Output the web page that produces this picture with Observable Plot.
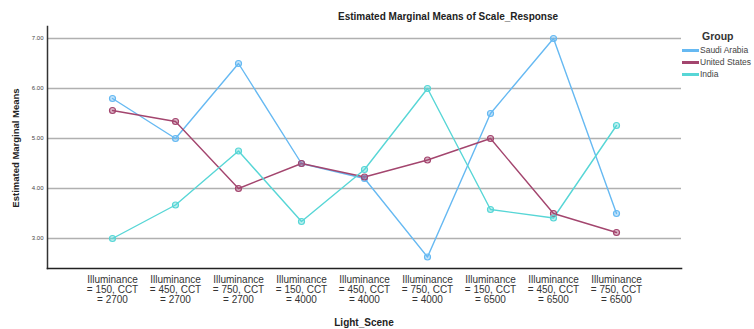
<!DOCTYPE html>
<html>
<head>
<meta charset="utf-8">
<script src="https://cdn.jsdelivr.net/npm/d3@7"></script>
<script src="https://cdn.jsdelivr.net/npm/@observablehq/plot@0.6"></script>
<style>
  html, body { margin: 0; padding: 0; background: #fff; }
  #wrap { position: relative; width: 754px; height: 329px; font-family: "Liberation Sans", Arial, sans-serif; }
  .abs { position: absolute; white-space: nowrap; }
  #title { left: 338px; top: 11px; font-size: 10px; font-weight: bold; color: #222; }
  #ylab { left: 15px; top: 148px; font-size: 9.5px; font-weight: bold; color: #222; transform: translate(-50%, -50%) rotate(-90deg); }
  #xlab { left: 364px; top: 322px; font-size: 10px; font-weight: bold; color: #222; transform: translate(-50%, -50%); }
  #legTitle { left: 702px; top: 30px; font-size: 10.5px; font-weight: bold; color: #333; }
  .legRow { position: absolute; left: 682px; height: 12px; display: flex; align-items: center; font-size: 8.5px; color: #444; }
  .legRow .sw { width: 17px; height: 3px; margin-right: 1px; }
</style>
</head>
<body>
<div id="wrap">
  <div id="chart" class="abs" style="left:0;top:0"></div>
  <div id="title" class="abs">Estimated Marginal Means of Scale_Response</div>
  <div id="ylab" class="abs">Estimated Marginal Means</div>
  <div id="xlab" class="abs">Light_Scene</div>
  <div id="legTitle" class="abs">Group</div>
  <div id="legend"></div>
</div>
<script>
const scenes = [
  "Illuminance\n= 150, CCT\n= 2700",
  "Illuminance\n= 450, CCT\n= 2700",
  "Illuminance\n= 750, CCT\n= 2700",
  "Illuminance\n= 150, CCT\n= 4000",
  "Illuminance\n= 450, CCT\n= 4000",
  "Illuminance\n= 750, CCT\n= 4000",
  "Illuminance\n= 150, CCT\n= 6500",
  "Illuminance\n= 450, CCT\n= 6500",
  "Illuminance\n= 750, CCT\n= 6500"
];
const groups = ["Saudi Arabia", "United States", "India"];
const saudiArabia = [5.80, 5.00, 6.50, 4.50, 4.20, 2.63, 5.50, 7.00, 3.50];
const unitedStates = [5.56, 5.34, 4.00, 4.50, 4.23, 4.57, 5.00, 3.50, 3.12];
const india = [3.00, 3.67, 4.75, 3.34, 4.38, 6.00, 3.58, 3.41, 5.26];
const yTicks = [3, 4, 5, 6, 7];
const colors = ["#66b9f2", "#a3456e", "#57d6d6"];

const seriesValues = [saudiArabia, unitedStates, india];
const data = [];
groups.forEach((g, gi) => scenes.forEach((s, i) => data.push({group: g, scene: s, value: seriesValues[gi][i]})));

const chart = Plot.plot({
  width: 754,
  height: 329,
  marginLeft: 47,
  marginRight: 73,
  marginTop: 26,
  marginBottom: 61,
  style: {fontFamily: "Liberation Sans, Arial, sans-serif", background: "#fff", overflow: "visible"},
  x: {type: "point", domain: scenes, padding: 1, label: null},
  y: {domain: [2.4, 7.24], label: null},
  color: {domain: groups, range: colors},
  marks: [
    Plot.ruleY(yTicks, {stroke: "#b0b0b0", strokeWidth: 1.4}),
    Plot.axisY({ticks: yTicks, tickFormat: d3.format(".2f"), tickSize: 0, tickPadding: 4, fontSize: 6, fill: "#444", label: null}),
    Plot.axisX({tickSize: 0, tickPadding: 7, fontSize: 10, fill: "#333", label: null, lineHeight: 1.0}),
    Plot.frame({anchor: "left", stroke: "#333", strokeWidth: 1.5}),
    Plot.frame({anchor: "bottom", stroke: "#222", strokeWidth: 1.6}),
    Plot.line(data, {x: "scene", y: "value", z: "group", stroke: "group", strokeWidth: 1.4}),
    Plot.dot(data, {x: "scene", y: "value", stroke: "group", fill: "group", fillOpacity: 0.4, r: 3, strokeWidth: 1.2})
  ]
});
document.getElementById("chart").appendChild(chart);

const leg = document.getElementById("legend");
groups.forEach((g, i) => {
  const row = document.createElement("div");
  row.className = "legRow";
  row.style.top = (44 + i * 12) + "px";
  row.innerHTML = `<span class="sw" style="background:${colors[i]}"></span><span>${g}</span>`;
  leg.appendChild(row);
});
</script>
</body>
</html>
